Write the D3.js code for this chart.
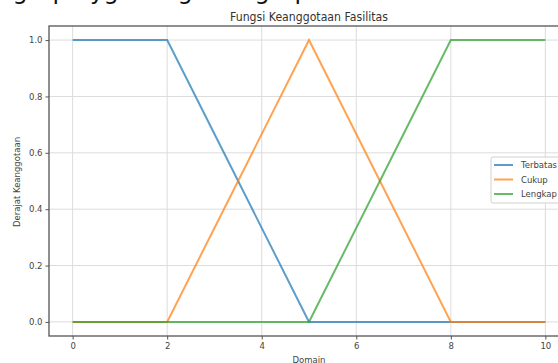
<!DOCTYPE html>
<html><head><meta charset="utf-8">
<script src="https://cdn.jsdelivr.net/npm/d3@7"></script>
<style>
html,body{margin:0;padding:0;background:#fff;}
svg{display:block;}
text{font-family:"DejaVu Sans",sans-serif;}
</style></head>
<body>
<svg id="chart" width="558" height="363"></svg>
<script>
// Data
const seriesNames = ["Terbatas", "Cukup", "Lengkap"];
const terbatasX = [0, 2, 5, 10];
const terbatasY = [1, 1, 0, 0];
const cukupX = [0, 2, 5, 8, 10];
const cukupY = [0, 0, 1, 0, 0];
const lengkapX = [0, 5, 8, 10];
const lengkapY = [0, 0, 1, 1];
const xTicks = [0, 2, 4, 6, 8, 10];
const yTicks = [0.0, 0.2, 0.4, 0.6, 0.8, 1.0];
const colors = ["#1f77b4", "#ff7f0e", "#2ca02c"];
const titleText = "Fungsi Keanggotaan Fasilitas";
const xLabel = "Domain";
const yLabel = "Derajat Keanggotaan";
// fragment of document text above the figure (only descenders visible)
const fragChars = ["g", "p", "y", "g", "g", "g", "p"];
const fragX = [20, 60, 97, 111, 185, 262, 302];

const svg = d3.select("#chart");
const L = 49, R = 569, T = 26, B = 336;
const x = d3.scaleLinear().domain([-0.5, 10.5]).range([L, R]);
const y = d3.scaleLinear().domain([-0.05, 1.05]).range([B, T]);

// document fragment
svg.append("g").selectAll("text").data(fragChars).join("text")
  .attr("x", (d, i) => fragX[i]).attr("y", -1)
  .attr("font-family", "'Liberation Serif', serif").attr("font-size", 24)
  .attr("text-anchor", "middle").attr("fill", "#111").text(d => d);

// grid
const grid = svg.append("g");
grid.selectAll(".gx").data(xTicks).join("line")
  .attr("x1", d => x(d)).attr("x2", d => x(d)).attr("y1", T).attr("y2", B)
  .attr("stroke", "#dcdcdc").attr("stroke-width", 1);
grid.selectAll(".gy").data(yTicks).join("line")
  .attr("y1", d => y(d)).attr("y2", d => y(d)).attr("x1", L).attr("x2", R)
  .attr("stroke", "#dcdcdc").attr("stroke-width", 1);

// axes
const xAxis = d3.axisBottom(x).tickValues(xTicks).tickFormat(d3.format("d")).tickSize(3.5).tickPadding(3);
const yAxis = d3.axisLeft(y).tickValues(yTicks).tickFormat(d3.format(".1f")).tickSize(3.5).tickPadding(3);
const gx = svg.append("g").attr("transform", `translate(0,${B})`).call(xAxis);
const gy = svg.append("g").attr("transform", `translate(${L},0)`).call(yAxis);
[gx, gy].forEach(g => {
  g.select(".domain").remove();
  g.selectAll("line").attr("stroke", "#555");
  g.selectAll("text").attr("font-size", 8.5).attr("fill", "#444").attr("font-family", "'DejaVu Sans',sans-serif");
});

// spines
svg.append("rect").attr("x", L).attr("y", T).attr("width", R - L).attr("height", B - T)
  .attr("fill", "none").attr("stroke", "#555").attr("stroke-width", 1.3);

// lines
const lineGen = d3.line().x(d => x(d[0])).y(d => y(d[1]));
const seriesData = [
  d3.zip(terbatasX, terbatasY),
  d3.zip(cukupX, cukupY),
  d3.zip(lengkapX, lengkapY)
];
svg.append("g").selectAll("path").data(seriesData).join("path")
  .attr("d", lineGen).attr("fill", "none")
  .attr("stroke", (d, i) => colors[i]).attr("stroke-opacity", 0.72)
  .attr("stroke-width", 2);

// title and labels
svg.append("text").attr("x", (L + R) / 2).attr("y", 21).attr("text-anchor", "middle")
  .attr("font-size", 11.5).attr("textLength", 158).attr("lengthAdjust", "spacingAndGlyphs")
  .attr("fill", "#333").text(titleText);
svg.append("text").attr("x", (L + R) / 2).attr("y", 363).attr("text-anchor", "middle")
  .attr("font-size", 8.5).attr("fill", "#444").text(xLabel);
svg.append("text").attr("transform", `translate(20,${(T + B) / 2 + 1}) rotate(-90)`)
  .attr("text-anchor", "middle").attr("font-size", 8.5).attr("fill", "#444").text(yLabel);

// legend
const lg = svg.append("g").attr("transform", "translate(491,157)");
lg.append("rect").attr("x", 0).attr("y", 0).attr("width", 90).attr("height", 46).attr("rx", 2)
  .attr("fill", "#fff").attr("fill-opacity", 0.85).attr("stroke", "#d0d0d0").attr("stroke-width", 1);
const items = lg.selectAll(".it").data(seriesNames).join("g")
  .attr("transform", (d, i) => `translate(0,${8 + i * 14.5})`);
items.append("line").attr("x1", 3).attr("x2", 22).attr("y1", 0).attr("y2", 0)
  .attr("stroke", (d, i) => colors[i]).attr("stroke-opacity", 0.72).attr("stroke-width", 2);
items.append("text").attr("x", 30).attr("y", 3).attr("font-size", 8.5).attr("fill", "#444").text(d => d);
</script>
</body></html>
